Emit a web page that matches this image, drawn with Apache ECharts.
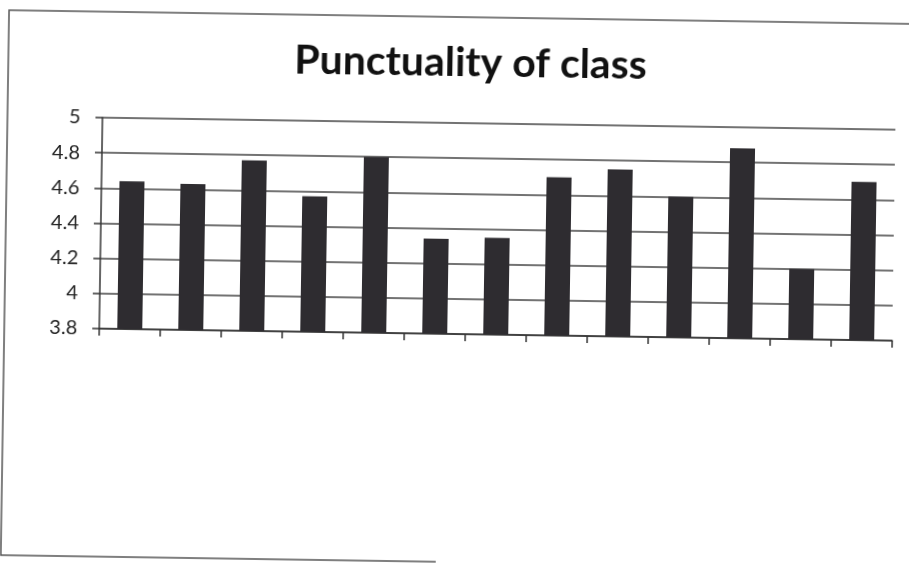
<!DOCTYPE html>
<html>
<head>
<meta charset="utf-8">
<script src="https://cdn.jsdelivr.net/npm/echarts@6/dist/echarts.min.js"></script>
<style>
html,body{margin:0;padding:0;background:#fff;overflow:hidden;}
#chart{width:909px;height:565px;transform:rotate(0.87deg);transform-origin:454.5px 282.5px;}
</style>
</head>
<body>
<div id="chart"></div>
<script>
const titleText = 'Punctuality of class';
const categories = ['1','2','3','4','5','6','7','8','9','10','11','12','13'];
const scores = [4.64, 4.63, 4.77, 4.57, 4.80, 4.34, 4.35, 4.70, 4.75, 4.60, 4.88, 4.20, 4.70];
const yMin = 3.8, yMax = 5, yStep = 0.2;

const chart = echarts.init(document.getElementById('chart'));
chart.setOption({
  backgroundColor: '#ffffff',
  animation: false,
  title: {
    text: titleText,
    left: 286,
    top: 37,
    textStyle: {fontFamily: 'Lato', fontWeight: 'bold', fontSize: 41, color: '#111'}
  },
  graphic: [{
    type: 'polyline',
    shape: {points: [[920, 17], [5, 17], [5, 562], [440, 562]]},
    style: {fill: 'none', stroke: '#555', lineWidth: 1.5},
    silent: true
  }],
  grid: {left: 100, right: 16, top: 123, bottom: 231},
  xAxis: {
    type: 'category',
    data: categories,
    axisLine: {show: true, lineStyle: {color: '#333', width: 1.5}},
    axisTick: {show: true, inside: false, length: 7, alignWithLabel: false, lineStyle: {color: '#333', width: 1.5}},
    axisLabel: {show: false},
    splitLine: {show: false}
  },
  yAxis: {
    type: 'value',
    min: yMin, max: yMax, interval: yStep,
    axisLine: {show: true, lineStyle: {color: '#333', width: 1.5}},
    axisTick: {show: true, length: 7, lineStyle: {color: '#333', width: 1.5}},
    axisLabel: {
      fontFamily: 'Lato', fontSize: 20, color: '#222', margin: 22,
      formatter: v => String(Math.round(v * 10) / 10)
    },
    splitLine: {show: true, lineStyle: {color: '#444', width: 1.5}}
  },
  series: [{
    type: 'bar',
    data: scores,
    barWidth: 25,
    itemStyle: {color: '#2e2c30'}
  }]
});
</script>
</body>
</html>
